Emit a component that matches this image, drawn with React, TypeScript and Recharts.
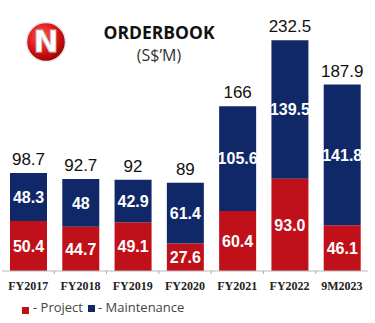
import React from "react";
import { BarChart, Bar, XAxis, YAxis, LabelList } from "recharts";

const categories = ["FY2017", "FY2018", "FY2019", "FY2020", "FY2021", "FY2022", "9M2023"];
const projectValues = [50.4, 44.7, 49.1, 27.6, 60.4, 93.0, 46.1];
const maintenanceValues = [48.3, 48, 42.9, 61.4, 105.6, 139.5, 141.8];
const projectLabels = ["50.4", "44.7", "49.1", "27.6", "60.4", "93.0", "46.1"];
const maintenanceLabels = ["48.3", "48", "42.9", "61.4", "105.6", "139.5", "141.8"];
const totalLabels = ["98.7", "92.7", "92", "89", "166", "232.5", "187.9"];
const seriesNames = ["Project", "Maintenance"];

const RED = "#c0111a";
const NAVY = "#102868";

const data = categories.map((c, i) => ({
  cat: c,
  project: projectValues[i],
  maintenance: maintenanceValues[i],
  projectLabel: projectLabels[i],
  maintenanceLabel: maintenanceLabels[i],
  total: totalLabels[i],
}));

const Tick = (props: any) => {
  const { x, y, payload, index } = props;
  const off = payload && payload.offset ? payload.offset : 0;
  return (
    <g>
      <text
        x={x}
        y={y + 16}
        textAnchor="middle"
        dominantBaseline="middle"
        fontFamily="'Liberation Serif', serif"
        fontWeight="bold"
        fontSize={12}
        fill="#222"
      >
        {payload.value}
      </text>
      {index > 0 && (
        <line x1={x - off} x2={x - off} y1={y} y2={y + 3} stroke="#aaa" strokeWidth={1} />
      )}
    </g>
  );
};

const Logo = () => (
  <svg width={44} height={44} style={{ position: "absolute", left: 24, top: 20 }}>
    <defs>
      <radialGradient id="lg" cx="40%" cy="35%" r="65%">
        <stop offset="0%" stopColor="#ff5a4a" />
        <stop offset="60%" stopColor="#d8161a" />
        <stop offset="100%" stopColor="#a00000" />
      </radialGradient>
    </defs>
    <circle cx={22} cy={22} r={19.5} fill="url(#lg)" stroke="#e6e6e6" strokeWidth={1.5} />
    <text
      x={22}
      y={23}
      textAnchor="middle"
      dominantBaseline="middle"
      fontFamily="'DejaVu Sans', sans-serif"
      fontWeight="bold"
      fontSize={30}
      fill="#ffffff"
      stroke="#c8c8c8"
      strokeWidth={0.8}
    >
      N
    </text>
  </svg>
);

export default function App() {
  return (
    <div
      style={{
        position: "absolute",
        left: 0,
        top: 0,
        width: 375,
        height: 323,
        background: "#fff",
        overflow: "hidden",
      }}
    >
      <BarChart
        width={375}
        height={323}
        data={data}
        margin={{ top: 23, right: 7, left: 2, bottom: 22 }}
      >
        <XAxis
          dataKey="cat"
          height={30}
          tickLine={false}
          tickSize={0}
          tickMargin={0}
          axisLine={{ stroke: "#bbbbbb", strokeWidth: 1 }}
          tick={<Tick />}
          interval={0}
        />
        <YAxis hide domain={[0, 250]} />
        <Bar dataKey="project" stackId="a" fill={RED} barSize={37} isAnimationActive={false}>
          <LabelList
            dataKey="projectLabel"
            position="center"
            fill="#fff"
            fontFamily="'Liberation Sans', Arial, sans-serif"
            fontWeight="bold"
            fontSize={16}
          />
        </Bar>
        <Bar dataKey="maintenance" stackId="a" fill={NAVY} barSize={37} isAnimationActive={false}>
          <LabelList
            dataKey="maintenanceLabel"
            position="center"
            fill="#fff"
            fontFamily="'Liberation Sans', Arial, sans-serif"
            fontWeight="bold"
            fontSize={16}
          />
          <LabelList
            dataKey="total"
            position="top"
            offset={8}
            fill="#111"
            fontFamily="'Liberation Sans', Arial, sans-serif"
            fontSize={17}
          />
        </Bar>
      </BarChart>

      <Logo />
      <div
        style={{
          position: "absolute",
          left: 79,
          width: 160,
          top: 22,
          textAlign: "center",
          fontFamily: "'Open Sans', sans-serif",
          fontWeight: "bold",
          fontSize: 17.5,
          lineHeight: "20px",
          color: "#111",
        }}
      >
        ORDERBOOK
      </div>
      <div
        style={{
          position: "absolute",
          left: 79,
          width: 160,
          top: 45,
          textAlign: "center",
          fontFamily: "'Open Sans', sans-serif",
          fontSize: 16,
          lineHeight: "20px",
          color: "#333",
        }}
      >
        (S$’M)
      </div>

      <div
        style={{
          position: "absolute",
          left: 22,
          top: 299,
          height: 16,
          display: "flex",
          alignItems: "center",
          fontFamily: "'Open Sans', sans-serif",
          fontSize: 13,
          color: "#444",
          whiteSpace: "nowrap",
        }}
      >
        <span style={{ display: "inline-block", width: 7, height: 7, background: RED, marginTop: 6 }} />
        <span style={{ marginLeft: 4 }}>- {seriesNames[0]}</span>
        <span style={{ display: "inline-block", width: 7, height: 7, background: NAVY, marginLeft: 5, marginTop: 2 }} />
        <span style={{ marginLeft: 3 }}>- {seriesNames[1]}</span>
      </div>
    </div>
  );
}
